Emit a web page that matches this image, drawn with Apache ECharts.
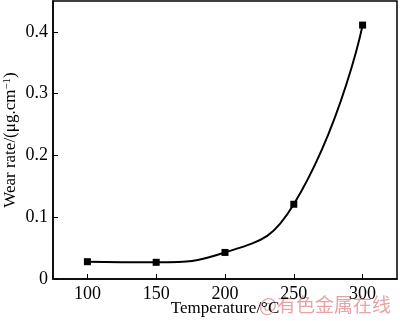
<!DOCTYPE html>
<html><head><meta charset="utf-8">
<script src="https://cdn.jsdelivr.net/npm/echarts@6/dist/echarts.min.js"></script>
<style>html,body{margin:0;padding:0;background:#fff}#c{width:400px;height:321px}</style>
</head><body><div id="c"></div>
<script>
const temperatures = [100, 150, 200, 250, 300];
const wearRates = [0.028, 0.027, 0.043, 0.121, 0.411];
const xTicks = [100, 150, 200, 250, 300];
const yTicks = [0, 0.1, 0.2, 0.3, 0.4];

const F = '"Liberation Serif", "Times New Roman", serif';
const chart = echarts.init(document.getElementById('c'), null, {renderer: 'canvas'});
chart.setOption({
  animation: false,
  backgroundColor: '#fff',
  grid: {left: 53, right: 3, top: 1, bottom: 42, containLabel: false, outerBoundsMode: 'none',
    show: true, borderColor: '#000', borderWidth: 1.5, backgroundColor: 'transparent'},
  xAxis: {
    type: 'value', min: 75, max: 325, interval: 25,
    axisLine: {lineStyle: {color: '#000', width: 1.5}},
    axisTick: {inside: true, length: 5, lineStyle: {color: '#000'}, customValues: xTicks},
    axisLabel: {color: '#000', fontFamily: F, fontSize: 18, margin: 6, customValues: xTicks},
    splitLine: {show: false},
    name: 'Temperature/°C', nameLocation: 'middle', nameGap: 21, nameMoveOverlap: false,
    nameTextStyle: {color: '#000', fontFamily: F, fontSize: 17}
  },
  yAxis: {
    type: 'value', min: 0, max: 0.45, interval: 0.05,
    axisLine: {lineStyle: {color: '#000', width: 1.5}},
    axisTick: {inside: true, length: 5, lineStyle: {color: '#000'}, customValues: yTicks},
    axisLabel: {color: '#000', fontFamily: F, fontSize: 18, margin: 5, customValues: yTicks,
      formatter: v => v === 0 ? '0' : String(Math.round(v*10)/10)},
    splitLine: {show: false},
    name: '{a|Wear rate/(μg.cm}{s|−1}{a|)}', nameLocation: 'middle', nameGap: 34, nameRotate: 90, nameMoveOverlap: false,
    nameTextStyle: {color: '#000', fontFamily: F, fontSize: 17,
      rich: {a: {fontFamily: F, fontSize: 17, color: '#000'}, s: {fontFamily: F, fontSize: 11, color: '#000', verticalAlign: 'top', lineHeight: 12}}}
  },
  series: [{
    type: 'line', smooth: 0.5,
    data: temperatures.map((t, i) => [t, wearRates[i]]),
    symbol: 'rect', symbolSize: 7,
    lineStyle: {color: '#000', width: 2},
    itemStyle: {color: '#000'}
  }],
  graphic: [{
    type: 'text', left: 259, top: 295,
    style: {text: '@有色金属在线', fill: '#e9a3a6', font: '19px "Noto Sans CJK SC", sans-serif'}
  }]
});
</script></body></html>
